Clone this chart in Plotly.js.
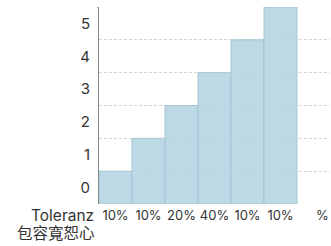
<!DOCTYPE html>
<html><head><meta charset="utf-8">
<script src="https://cdn.plot.ly/plotly-3.0.1.min.js"></script>
<style>html,body{margin:0;padding:0;background:#fff}#c{width:331px;height:246px}</style>
</head><body><div id="c"></div>
<script>
const categories = ['10%','10%','20%','40%','10%','10%','%'];
const levels = [1,2,3,4,5,6];
const yTickLabels = ['0','1','2','3','4','5'];
const rowTitle = 'Toleranz';
const rowSubtitle = '包容寬恕心';

const xs = levels.map((_, i) => i);
const yBand = yTickLabels.map((_, i) => i + 0.5);
const gridVals = yTickLabels.map((_, i) => i + 1);
const tickPos = categories.map((_, i) => i === categories.length - 1 ? i + 0.27 : i);
const fam = 'Inter, "Noto Sans CJK TC", sans-serif';
const font = {family: fam, size: 14, color: '#333'};

const data = [{
  type: 'bar', x: xs, y: levels, width: 1,
  marker: {color: 'rgba(183,214,227,0.92)', line: {color: '#a6c6d4', width: 1}},
  hoverinfo: 'skip'
}, {
  type: 'scatter', x: [0], y: [0], yaxis: 'y2', mode: 'markers',
  marker: {opacity: 0}, showlegend: false, hoverinfo: 'skip'
}];

const layout = {
  width: 331, height: 246,
  margin: {l: 99, r: 1, t: 7, b: 42},
  paper_bgcolor: '#fff', plot_bgcolor: '#fff',
  showlegend: false, font: font, bargap: 0,
  xaxis: {
    range: [-0.5, 6.5], tickvals: tickPos, ticktext: categories,
    showgrid: false, zeroline: false, showline: false, ticks: '', fixedrange: true,
    tickangle: 0, ticklabelstandoff: 2,
    tickfont: {family: fam, size: 13, color: '#333'}
  },
  yaxis: {
    range: [0, 6], tickvals: yBand, ticktext: yTickLabels,
    showgrid: false, zeroline: false, showline: true, linecolor: '#888', linewidth: 1,
    ticks: '', ticklabelstandoff: 5, tickfont: {family: fam, size: 15, color: '#333'}
  },
  yaxis2: {
    overlaying: 'y', range: [0, 6], tickvals: gridVals, showticklabels: false,
    showgrid: true, gridcolor: '#d4d4d4', griddash: '3px,2px', gridwidth: 1,
    zeroline: false, showline: false, ticks: ''
  },
  annotations: [
    {xref: 'paper', yref: 'paper', x: 0, y: 0, xanchor: 'right', yanchor: 'middle',
     xshift: -3, yshift: -11, text: rowTitle, showarrow: false,
     font: {family: fam, size: 15.5, color: '#333'}},
    {xref: 'paper', yref: 'paper', x: 0, y: 0, xanchor: 'right', yanchor: 'middle',
     xshift: -2, yshift: -29, text: rowSubtitle, showarrow: false,
     font: {family: fam, size: 15.5, color: '#333'}}
  ],
  shapes: [
    {type: 'line', xref: 'paper', yref: 'y', x0: -0.01, x1: 0, y0: 6, y1: 6,
     line: {color: '#888', width: 1}}
  ]
};
Plotly.newPlot('c', data, layout, {displayModeBar: false, staticPlot: true});
</script></body></html>
